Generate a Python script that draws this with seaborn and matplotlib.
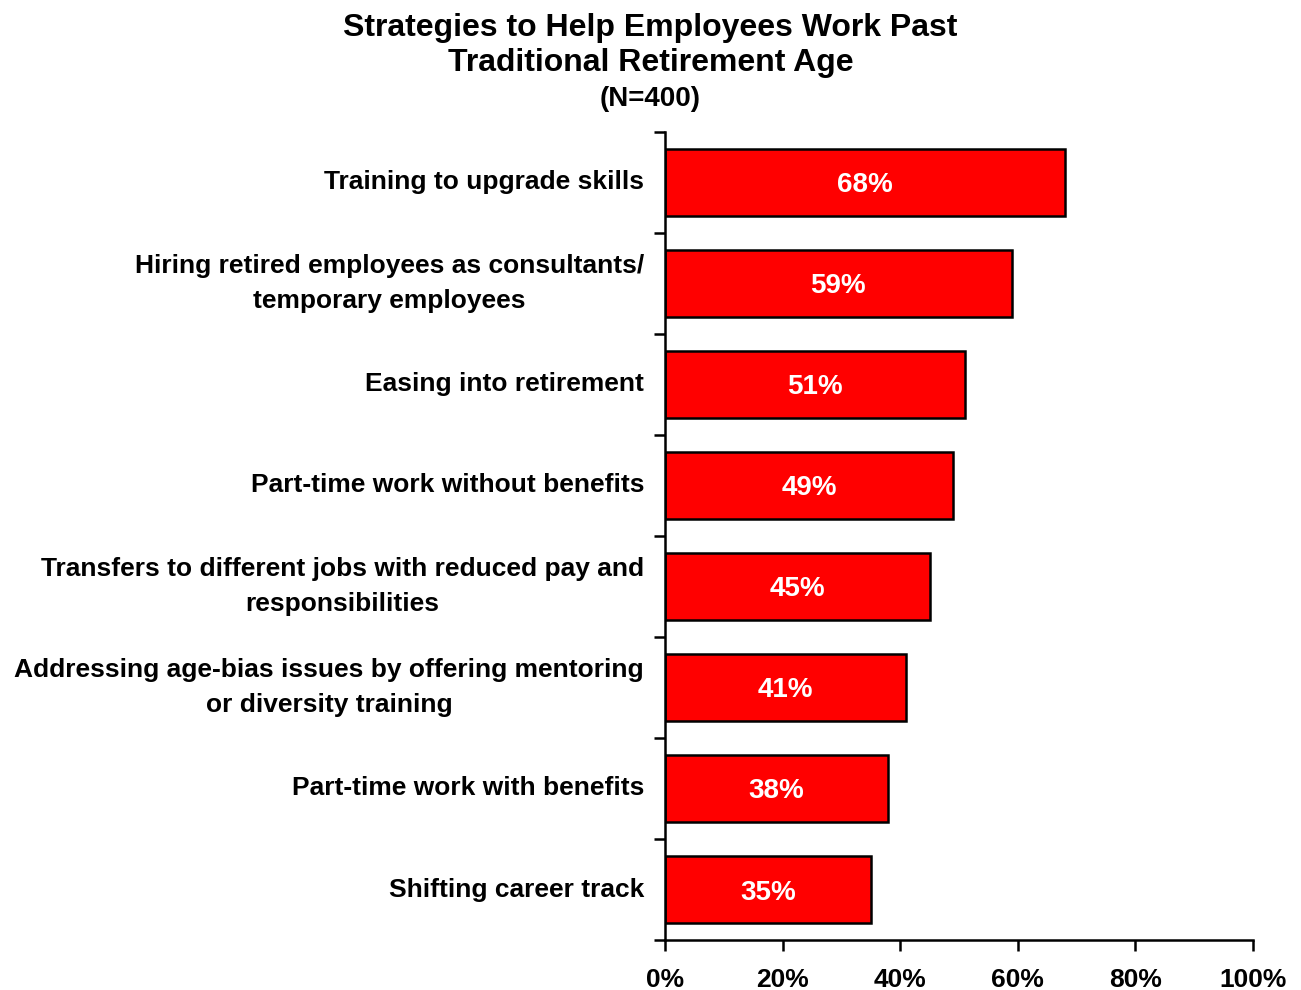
import matplotlib
matplotlib.use("Agg")
import matplotlib.pyplot as plt
from matplotlib.ticker import FixedLocator, PercentFormatter
import seaborn as sns
import pandas as pd

strategies = [
    "Training to upgrade skills",
    "Hiring retired employees as consultants/\ntemporary employees",
    "Easing into retirement",
    "Part-time work without benefits",
    "Transfers to different jobs with reduced pay and\nresponsibilities",
    "Addressing age-bias issues by offering mentoring\nor diversity training",
    "Part-time work with benefits",
    "Shifting career track",
]
shares = [68, 59, 51, 49, 45, 41, 38, 35]
x_ticks = [0, 20, 40, 60, 80, 100]

df = pd.DataFrame({"strategy": strategies, "share": shares})

sns.set_theme(style="white")
plt.rcParams["font.family"] = ["Liberation Sans", "DejaVu Sans"]
plt.rcParams["font.weight"] = "bold"
for key in ("text.color", "axes.labelcolor", "xtick.color", "ytick.color"):
    plt.rcParams[key] = "black"

fig = plt.figure(figsize=(13.01, 9.90), dpi=100)
ax = fig.add_axes([0.5111, 0.0505, 0.9631 - 0.5111, 0.8667 - 0.0505])

sns.barplot(data=df, x="share", y="strategy", orient="h", color="#FF0000",
            saturation=1, edgecolor="black", linewidth=1.8, width=0.66, ax=ax)

for patch, val in zip(ax.patches, shares):
    cy = patch.get_y() + patch.get_height() / 2
    ax.text(val / 2, cy, f"{val}%", ha="center", va="center_baseline",
            color="white", fontsize=20, fontweight="bold")

ax.set_xlim(0, 100)
ax.set_ylim(len(strategies) - 0.5, -0.5)
ax.set_xticks(x_ticks)
ax.xaxis.set_major_formatter(PercentFormatter(decimals=0))
ax.set_xlabel("")
ax.set_ylabel("")

# labels centred on bars, tick marks at category boundaries
ax.yaxis.set_minor_locator(FixedLocator([i - 0.5 for i in range(len(strategies) + 1)]))
ax.tick_params(axis="y", which="major", length=0, pad=15, labelsize=19)
ax.tick_params(axis="y", which="minor", left=True, length=8, width=1.8, color="black")
ax.tick_params(axis="x", which="major", bottom=True, length=8, width=1.8,
               color="black", pad=12, labelsize=19)
for lbl in ax.get_yticklabels():
    lbl.set_fontweight("bold")
    lbl.set_multialignment("center")
    lbl.set_linespacing(1.55)
    lbl.set_va("center")
for lbl in ax.get_xticklabels():
    lbl.set_fontweight("bold")

for side in ("top", "right"):
    ax.spines[side].set_visible(False)
for side in ("left", "bottom"):
    ax.spines[side].set_color("black")
    ax.spines[side].set_linewidth(1.8)

fig.text(0.5, 0.987, "Strategies to Help Employees Work Past\nTraditional Retirement Age",
         ha="center", va="top", fontsize=23, fontweight="bold", linespacing=1.22)
fig.text(0.5, 0.9, "(N=400)", ha="center", va="center", fontsize=20, fontweight="bold")

fig.savefig("out.png", dpi=100)
